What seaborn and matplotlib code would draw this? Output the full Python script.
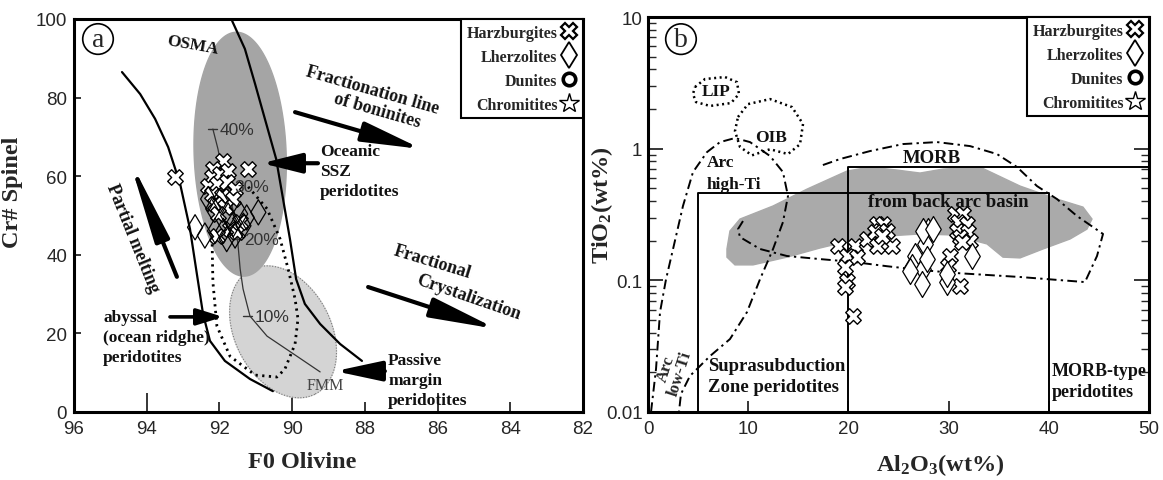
import numpy as np
import pandas as pd
import matplotlib
matplotlib.use("Agg")
import matplotlib.pyplot as plt
import seaborn as sns
from matplotlib.lines import Line2D

sns.set_style("ticks")
plt.rcParams["font.family"] = ["Liberation Sans", "DejaVu Sans"]
plt.rcParams["mathtext.fontset"] = "custom"
plt.rcParams["mathtext.rm"] = "Liberation Serif:bold"
plt.rcParams["mathtext.it"] = "Liberation Serif:bold"
plt.rcParams["mathtext.bf"] = "Liberation Serif:bold"
SERIF = ["Liberation Serif", "DejaVu Serif"]

# ---------------- Panel a data (Fo olivine, Cr# spinel) ----------------
harz_a_fo = [93.22, 91.21, 91.89, 92.17, 92.21, 91.98, 91.76, 92.31, 92.08, 91.80,
             91.57, 92.21, 91.94, 91.62, 92.12, 91.85, 92.03, 91.71, 91.53, 92.08, 91.43]
harz_a_cr = [59.7, 61.8, 63.9, 61.8, 59.7, 60.6, 61.4, 57.6, 58.0, 58.4,
             56.7, 55.5, 55.0, 54.2, 52.9, 52.1, 50.4, 46.6, 45.7, 44.9, 48.3]
lherz_a_fo = [92.67, 92.40, 90.93, 92.17, 91.76, 91.43, 91.62, 91.34, 91.89, 91.57,
              91.80, 92.12, 91.25, 91.98, 92.31]
lherz_a_cr = [47.0, 44.9, 50.8, 51.7, 50.0, 50.4, 47.8, 47.4, 46.1, 44.9,
              44.0, 46.1, 49.5, 53.8, 54.2]

# OSMA boundaries, dotted field and melting trend (Fo, Cr#)
osma_left_fo = [94.68, 94.18, 93.77, 93.41, 93.08, 92.81, 92.62, 92.45, 92.26, 91.85, 91.16, 90.53]
osma_left_cr = [86.5, 80.9, 74.6, 67.4, 58.0, 46.6, 35.1, 24.9, 18.1, 13.0, 8.4, 5.3]
osma_right_fo = [91.65, 91.30, 91.02, 90.75, 90.44, 90.25, 90.06, 89.89, 89.65, 89.23, 88.68, 88.08]
osma_right_cr = [99.5, 92.4, 83.5, 74.6, 64.4, 54.2, 44.0, 33.8, 27.5, 22.4, 17.3, 13.0]
abyssal_fo = [91.21, 90.69, 90.33, 90.11, 89.92, 89.84, 89.92, 90.20, 90.42, 91.02, 91.71, 92.07, 92.18, 92.20]
abyssal_cr = [57.3, 51.7, 44.0, 36.4, 28.8, 23.7, 17.3, 10.9, 8.9, 9.4, 14.2, 21.9, 33.1, 42.7]
melt_fo = [92.18, 92.04, 91.93, 91.76, 91.60, 91.49, 91.43, 91.35, 91.16, 90.69, 89.87, 89.23]
melt_cr = [72.0, 66.9, 61.8, 56.7, 50.4, 42.7, 36.4, 31.3, 24.4, 19.3, 14.2, 10.2]
melt_pct = ["40%", "30%", "20%", "10%"]
melt_pct_fo = [92.19, 91.79, 91.51, 91.22]
melt_pct_cr = [72.0, 57.5, 44.0, 24.4]

# ---------------- Panel b data (Al2O3, TiO2) ----------------
harz_b_al = [18.99, 20.66, 19.83, 20.83, 19.66, 19.83, 19.66, 20.49, 21.82, 22.82, 24.32,
             22.82, 23.49, 23.15, 22.65, 23.82, 23.32, 30.14, 31.14, 30.64, 31.47, 30.97,
             31.80, 30.80, 31.97, 31.14, 32.14, 31.30, 29.97]
harz_b_ti = [0.183, 0.183, 0.154, 0.150, 0.126, 0.099, 0.089, 0.054, 0.206, 0.183, 0.183,
             0.268, 0.268, 0.238, 0.231, 0.238, 0.218, 0.154, 0.091, 0.319, 0.319, 0.276,
             0.268, 0.238, 0.231, 0.212, 0.200, 0.194, 0.129]
lherz_b_al = [27.97, 27.64, 26.65, 26.31, 27.48, 27.31, 32.30, 29.81, 26.15, 27.48, 28.47, 27.81, 29.81]
lherz_b_ti = [0.238, 0.189, 0.154, 0.126, 0.122, 0.094, 0.154, 0.097, 0.118, 0.238, 0.244, 0.145, 0.112]

backarc_al = [7.88, 8.18, 9.18, 12.48, 15.87, 19.86, 22.16, 24.85, 27.15, 29.44, 33.13, 37.13,
              40.82, 43.41, 44.31, 43.81, 42.12, 39.42, 37.13, 35.43, 33.83, 30.44, 27.15,
              23.85, 20.46, 17.17, 13.87, 10.48, 8.68, 7.88]
backarc_ti = [0.173, 0.237, 0.292, 0.367, 0.493, 0.676, 0.725, 0.688, 0.653, 0.700, 0.725, 0.520,
              0.414, 0.360, 0.292, 0.245, 0.206, 0.173, 0.148, 0.150, 0.189, 0.221, 0.225,
              0.217, 0.202, 0.176, 0.150, 0.131, 0.131, 0.150]
morb_al = [9.48, 8.98, 9.18, 11.18, 13.87, 17.17, 20.46, 23.85, 27.15, 30.44, 37.13, 43.61,
           44.81, 45.41, 42.81, 40.82, 38.82, 36.83, 34.83, 32.14, 28.84, 25.45, 22.16, 19.16, 17.17]
morb_ti = [0.282, 0.245, 0.213, 0.173, 0.153, 0.145, 0.138, 0.128, 0.120, 0.114, 0.106, 0.097,
           0.153, 0.225, 0.308, 0.414, 0.520, 0.725, 0.910, 1.046, 1.122, 1.084, 0.959, 0.834, 0.738]
arc_al = [0.30, 0.80, 1.20, 1.80, 2.50, 3.49, 4.49, 5.89, 7.19, 8.68, 10.18, 12.18, 13.47, 13.97,
          13.47, 12.48, 11.18, 9.88, 8.18, 6.19, 4.19, 3.29, 3.09]
arc_ti = [0.010, 0.0212, 0.0574, 0.102, 0.173, 0.367, 0.664, 0.942, 1.122, 1.204, 1.122, 0.879,
          0.664, 0.437, 0.277, 0.173, 0.102, 0.0574, 0.0358, 0.0266, 0.0188, 0.0137, 0.010]
lip_al = [4.69, 5.69, 7.68, 8.88, 9.08, 8.28, 6.19, 4.79, 4.49, 4.69]
lip_ti = [2.94, 3.38, 3.50, 3.20, 2.60, 2.22, 2.11, 2.26, 2.60, 2.94]
oib_al = [8.98, 9.98, 12.18, 14.37, 15.47, 15.17, 13.97, 12.18, 10.38, 9.18, 8.68, 8.98]
oib_ti = [1.74, 2.18, 2.38, 2.07, 1.54, 1.08, 0.91, 0.99, 0.89, 1.03, 1.36, 1.74]
ssz_box_al = [5, 5, 40, 40]
ssz_box_ti = [0.01, 0.46, 0.46, 0.01]
morb_box_al = [20, 20, 50]
morb_box_ti = [0.01, 0.72, 0.72]

legend_labels = ["Harzburgites", "Lherzolites", "Dunites", "Chromitites"]

# ---------------- helpers ----------------
PX_FO, PX_CR = 36.36, 3.93


def ellipse(cfo, ccr, a_px, b_px, ang):
    t = np.linspace(0, 2 * np.pi, 240)
    u, v = a_px * np.cos(t), b_px * np.sin(t)
    th = np.deg2rad(ang)
    ur = u * np.cos(th) - v * np.sin(th)
    vr = u * np.sin(th) + v * np.cos(th)
    return cfo - ur / PX_FO, ccr + vr / PX_CR


def arrow(ax, tail, tip, lw, hl, hw):
    ax.annotate("", xy=tip, xytext=tail,
                arrowprops=dict(arrowstyle=f"-|>,head_length={hl},head_width={hw}",
                                lw=lw, color="black", shrinkA=0, shrinkB=0,
                                mutation_scale=20), zorder=5)


def btext(ax, x, y, s, size=11.5, ha="left", va="center", rot=0, **kw):
    ax.text(x, y, s, family=SERIF, weight="bold", fontsize=size, ha=ha, va=va,
            rotation=rot, rotation_mode="anchor", color="#111111", zorder=6, **kw)


fig = plt.figure(figsize=(11.63, 4.81), dpi=100)
ax1 = fig.add_axes([74 / 1163, 68 / 481, 509 / 1163, 393 / 481])
ax2 = fig.add_axes([648 / 1163, 68 / 481, 501 / 1163, 395 / 481])

# ================= Panel a =================
lx, ly = ellipse(90.25, 20.4, 70, 48, -62.6)
ax1.fill(lx, ly, color="#d4d4d4", zorder=1)
ax1.plot(lx, ly, ls=(0, (1, 1.5)), color="#777777", lw=0.8, zorder=1.2)
dx, dy = ellipse(91.43, 65.6, 122, 46, -88)
ax1.fill(dx, dy, color="#a5a5a5", zorder=1.5)

ax1.plot(osma_left_fo, osma_left_cr, color="black", lw=1.6, zorder=2)
ax1.plot(osma_right_fo, osma_right_cr, color="black", lw=1.6, zorder=2)
ax1.plot(abyssal_fo, abyssal_cr, color="black", lw=2.0, ls=(0, (0.8, 1.6)), zorder=2)
ax1.plot(melt_fo, melt_cr, color="#333333", lw=0.9, zorder=2)
for lab, f, c in zip(melt_pct, melt_pct_fo, melt_pct_cr):
    ax1.plot([f + 0.12, f - 0.12], [c, c], color="#333333", lw=1.0, zorder=2)
    ax1.text(f - 0.2, c, lab, fontsize=12.5, color="#333333", ha="left", va="center", zorder=6)
ax1.text(89.10, 6.9, "FMM", family=SERIF, fontsize=11.5, color="#444444", ha="center",
         va="center", zorder=6)

sns.scatterplot(x=harz_a_fo, y=harz_a_cr, marker="X", s=125, color="white",
                edgecolor="black", linewidth=1.0, ax=ax1, zorder=4)
sns.scatterplot(x=lherz_a_fo, y=lherz_a_cr, marker="d", s=165, color="none",
                edgecolor="black", linewidth=0.9, ax=ax1, zorder=4)

arrow(ax1, (93.17, 34.4), (94.49, 64.6), 3.0, 2.4, 0.22)
arrow(ax1, (89.92, 76.3), (86.43, 66.9), 3.0, 1.8, 0.3)
arrow(ax1, (87.91, 31.8), (84.37, 21.1), 3.0, 2.0, 0.3)
arrow(ax1, (89.29, 63.3), (90.83, 63.3), 3.0, 1.2, 0.3)
arrow(ax1, (93.36, 24.2), (91.90, 24.2), 2.6, 0.8, 0.25)
arrow(ax1, (87.45, 10.4), (88.82, 10.4), 3.0, 1.4, 0.3)

btext(ax1, 92.73, 93.6, "OSMA", 12.5, ha="center", rot=-10)
btext(ax1, 87.78, 81.9, "Fractionation line", 13, ha="center", rot=-16)
btext(ax1, 87.67, 76.8, "of boninites", 13, ha="center", rot=-16)
btext(ax1, 89.23, 66.4, "Oceanic", 12.5)
btext(ax1, 89.23, 61.3, "SSZ", 12.5)
btext(ax1, 89.23, 56.2, "peridotites", 12.5)
btext(ax1, 94.40, 44.5, "Partial melting", 13, ha="center", rot=-68)
btext(ax1, 86.15, 38.2, "Fractional", 13, ha="center", rot=-17)
btext(ax1, 85.14, 29.3, "Crystalization", 13, ha="center", rot=-19)
btext(ax1, 95.20, 24.2, "abyssal", 12.5)
btext(ax1, 95.20, 19.1, "(ocean ridghe)", 12.5)
btext(ax1, 95.20, 14.0, "peridotites", 12.5)
btext(ax1, 87.36, 13.2, "Passive", 12.5)
btext(ax1, 87.36, 8.1, "margin", 12.5)
btext(ax1, 87.36, 3.1, "peridotites", 12.5)
ax1.text(95.34, 94.9, "a", family=SERIF, fontsize=20, ha="center", va="center", zorder=7,
         bbox=dict(boxstyle="circle,pad=0.1", fc="white", ec="black", lw=1.2))

ax1.set_xlim(96, 82)
ax1.set_ylim(0, 100)
ax1.set_xticks([94, 90, 86], labels=["94", "90", "86"])
ax1.set_xticks([96, 92, 88, 84, 82], labels=["96", "92", "88", "84", "82"], minor=True)
ax1.tick_params(axis="x", which="major", direction="in", length=14, width=1.3, pad=6, labelsize=13.5)
ax1.tick_params(axis="x", which="minor", direction="in", length=7, width=1.3, pad=6, labelsize=13.5)
ax1.set_yticks([0, 20, 40, 60, 80, 100])
ax1.tick_params(axis="y", direction="in", length=5, width=1.3, pad=5, labelsize=13.5)
ax1.set_xlabel("F0 Olivine", family=SERIF, weight="bold", fontsize=17.5)
ax1.set_ylabel("Cr# Spinel", family=SERIF, weight="bold", fontsize=17.5)
ax1.xaxis.set_label_coords(0.448, -0.1)
ax1.yaxis.set_label_coords(-0.1, 0.562)

# ================= Panel b =================
ax2.set_yscale("log")
ax2.fill(backarc_al, backarc_ti, color="#aaaaaa", zorder=1)
dashdot = (0, (5, 2.2, 1.2, 2.2))
ax2.plot(morb_al, morb_ti, color="black", lw=1.4, ls=dashdot, zorder=2)
ax2.plot(arc_al, arc_ti, color="black", lw=1.4, ls=dashdot, zorder=2)
ax2.plot(lip_al, lip_ti, color="black", lw=1.8, ls=(0, (0.8, 1.4)), zorder=2)
ax2.plot(oib_al, oib_ti, color="black", lw=1.8, ls=(0, (0.8, 1.4)), zorder=2)
ax2.plot(ssz_box_al, ssz_box_ti, color="black", lw=1.4, zorder=2)
ax2.plot(morb_box_al, morb_box_ti, color="black", lw=1.4, zorder=2)

sns.scatterplot(x=harz_b_al, y=harz_b_ti, marker="X", s=125, color="white",
                edgecolor="black", linewidth=1.0, ax=ax2, zorder=4)
sns.scatterplot(x=lherz_b_al, y=lherz_b_ti, marker="d", s=175, color="white",
                edgecolor="black", linewidth=0.9, ax=ax2, zorder=4)

btext(ax2, 6.79, 2.74, "LIP", 12.5, ha="center")
btext(ax2, 12.28, 1.225, "OIB", 12.5, ha="center")
btext(ax2, 5.89, 0.791, "Arc", 12.5)
btext(ax2, 5.89, 0.5385, "high-Ti", 12.5)
btext(ax2, 28.34, 0.864, "MORB", 13.5, ha="center")
btext(ax2, 30.0, 0.400, "from back arc basin", 13.5, ha="center")
btext(ax2, 5.99, 0.0224, "Suprasubduction", 13.5)
btext(ax2, 5.99, 0.0155, "Zone peridotites", 13.5)
btext(ax2, 40.32, 0.0208, "MORB-type", 13)
btext(ax2, 40.32, 0.0144, "peridotites", 13)
ax2.text(2.5, 0.0205, "Arc\nlow-Ti", family=SERIF, weight="bold", fontsize=12,
         ha="center", va="center", rotation=72, linespacing=0.95, zorder=6)
ax2.text(3.29, 6.79, "b", family=SERIF, fontsize=20, ha="center", va="center", zorder=7,
         bbox=dict(boxstyle="circle,pad=0.1", fc="white", ec="black", lw=1.2))

ax2.set_xlim(0, 50)
ax2.set_ylim(0.01, 10)
ax2.set_xticks([0, 10, 20, 30, 40, 50])
ax2.set_yticks([0.01, 0.1, 1, 10], labels=["0.01", "0.1", "1", "10"])
ax2.tick_params(axis="x", direction="in", length=8, width=1.3, pad=6, labelsize=13.5)
ax2.tick_params(axis="y", which="major", direction="in", length=11, width=1.3, pad=4,
                labelsize=13.5, right=True)
ax2.tick_params(axis="y", which="minor", direction="in", length=6, width=1.0, right=True)
ax2.set_xlabel(r"Al$_2$O$_3$(wt%)", family=SERIF, weight="bold", fontsize=17.5)
ax2.set_ylabel(r"TiO$_2$(wt%)", family=SERIF, weight="bold", fontsize=17.5)
ax2.xaxis.set_label_coords(0.583, -0.1)
ax2.yaxis.set_label_coords(-0.065, 0.527)

# ---------------- frames & legends ----------------
handles = [
    Line2D([], [], ls="none", marker="X", ms=11, mfc="white", mec="black", mew=1.6),
    Line2D([], [], ls="none", marker="d", ms=13, mfc="white", mec="black", mew=1.3),
    Line2D([], [], ls="none", marker="o", ms=9, mfc="white", mec="black", mew=2.6),
    Line2D([], [], ls="none", marker="*", ms=15, mfc="white", mec="black", mew=1.0),
]
for ax in (ax1, ax2):
    for sp in ax.spines.values():
        sp.set_linewidth(2.2)
        sp.set_color("black")
    leg = ax.legend(handles, legend_labels, loc="upper right", markerfirst=False,
                    frameon=True, fancybox=False, framealpha=1, edgecolor="black",
                    borderaxespad=0, borderpad=0.35, handlelength=1.0, handletextpad=0.25,
                    labelspacing=0.5, prop=dict(family=SERIF, weight="bold", size=11.5))
    leg.get_frame().set_linewidth(1.5)
    leg.set_zorder(8)

fig.savefig("out.png", dpi=100)
